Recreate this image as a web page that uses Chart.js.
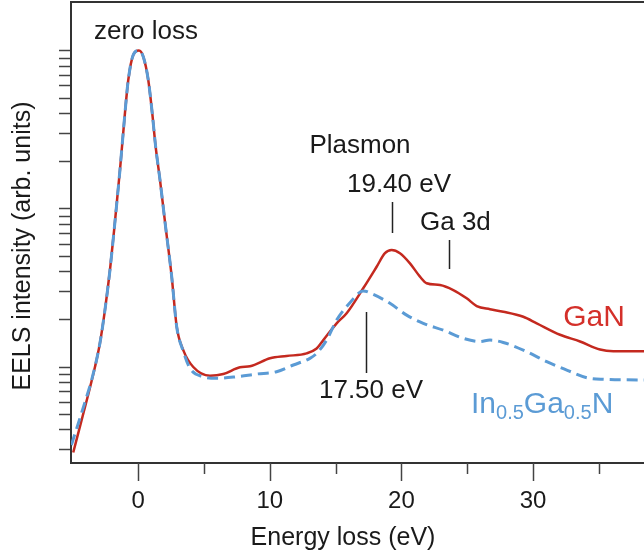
<!DOCTYPE html>
<html><head><meta charset="utf-8">
<script src="https://cdn.jsdelivr.net/npm/chart.js@4/dist/chart.umd.min.js"></script>
<style>html,body{margin:0;padding:0;background:#fff;overflow:hidden}#wrap{width:644px;height:555px;position:relative}</style>
</head><body><div id="wrap"><canvas id="c" width="644" height="555"></canvas></div>
<script>
// GaN spectrum (energy loss in eV, intensity in arb. units)
const ganEnergy = [-4.93,-4.29,-3.28,-2.90,-2.52,-2.14,-1.82,-1.38,-1.00,-0.75,-0.37,0.06,0.39,0.77,1.07,1.33,1.66,2.04,2.55,2.93,3.43,4.19,5.46,6.47,7.74,8.50,10.02,11.28,12.80,13.56,14.07,15.08,15.84,17.10,18.12,18.75,19.26,19.89,20.65,21.41,21.92,22.93,23.94,24.96,25.72,26.73,27.74,29.26,30.28,32.05,33.57,35.09,36.10,38.43];
const ganIntensity = [0.288,0.462,1.00,1.42,2.30,4.11,7.40,17.7,40.5,65.5,94.4,100.5,92.0,65.5,40.5,24.8,15.3,8.28,3.73,1.80,1.28,1.00,0.881,0.903,0.996,1.01,1.135,1.174,1.22,1.31,1.48,1.89,2.19,3.15,4.31,5.25,5.50,5.25,4.53,3.73,3.39,3.30,3.07,2.72,2.43,2.32,2.24,2.08,1.89,1.60,1.45,1.29,1.26,1.26];
// In0.5Ga0.5N spectrum
const ingEnergy = [-5.07,-4.42,-3.91,-3.53,-2.90,-2.52,-2.14,-1.82,-1.38,-1.00,-0.75,-0.37,0.06,0.39,0.77,1.07,1.33,1.66,2.04,2.55,2.93,3.43,3.94,4.95,5.97,7.48,9.00,10.52,11.79,13.05,13.56,14.32,15.08,16.09,17.10,17.86,19.13,20.40,21.66,23.18,24.70,25.97,26.73,27.74,29.52,31.04,32.56,34.08,35.34,38.43];
const ingIntensity = [0.321,0.475,0.649,0.828,1.42,2.30,4.11,7.40,17.7,40.5,65.5,94.4,100.5,92.0,65.5,40.5,24.8,15.3,8.28,3.73,1.80,1.26,0.981,0.868,0.848,0.868,0.903,0.934,1.03,1.135,1.22,1.48,1.98,2.55,3.03,2.88,2.53,2.13,1.89,1.71,1.52,1.45,1.48,1.43,1.25,1.08,0.957,0.856,0.836,0.828];

const xMajorTicks = [0,10,20,30];
const xMinorTicks = [5,15,25,35];
const yTicks = [0.3,0.4,0.5,0.6,0.7,0.8,0.9,1,2,3,4,5,6,7,8,9,10,20,30,40,50,60,70,80,90,100];
const markerEnergies = {plasmonGaN:19.27, plasmonInGaN:17.29, ga3d:23.62};

const FONT = "'Liberation Sans', Arial, Helvetica, sans-serif";
const AXIS = '#333333';
const RED = '#c4291f';
const BLUE = '#5b9bd5';

const toXY = (xs, ys) => xs.map((x,i)=>({x:x, y:ys[i]}));

const deco = {
  id:'deco',
  afterDraw(chart){
    const ctx = chart.ctx, ca = chart.chartArea, xs = chart.scales.x;
    ctx.save();
    ctx.strokeStyle = AXIS; ctx.lineWidth = 2;
    ctx.beginPath(); ctx.moveTo(ca.left-1, ca.top); ctx.lineTo(ca.right, ca.top); ctx.stroke();
    ctx.lineWidth = 1.5; ctx.strokeStyle = '#444';
    xMajorTicks.concat(xMinorTicks).forEach(v=>{
      const px = Math.round(xs.getPixelForValue(v))+0.5;
      const len = xMajorTicks.includes(v) ? 18 : 11;
      ctx.beginPath(); ctx.moveTo(px, ca.bottom); ctx.lineTo(px, ca.bottom+len); ctx.stroke();
    });
    ctx.fillStyle = '#1a1a1a';
    ctx.font = '24px ' + FONT; ctx.textAlign='center'; ctx.textBaseline='alphabetic';
    xMajorTicks.forEach(v=>{ ctx.fillText(String(v), xs.getPixelForValue(v), 508); });
    ctx.font = '25px ' + FONT;
    ctx.fillText('Energy loss (eV)', 343, 545);
    ctx.save(); ctx.translate(30, 246); ctx.rotate(-Math.PI/2);
    ctx.textBaseline='alphabetic'; ctx.fillText('EELS intensity (arb. units)', 0, 0); ctx.restore();
    ctx.font = '26px ' + FONT;
    ctx.fillText('zero loss', 146, 39);
    ctx.fillText('Plasmon', 360, 153);
    ctx.fillText('19.40 eV', 399, 192);
    ctx.textAlign='left';
    ctx.fillText('Ga 3d', 420, 230);
    ctx.textAlign='center';
    ctx.fillText('17.50 eV', 371, 398);
    ctx.strokeStyle = '#222'; ctx.lineWidth = 1.5;
    const vline = (e, y1, y2) => { const px = Math.round(xs.getPixelForValue(e))+0.5; ctx.beginPath(); ctx.moveTo(px,y1); ctx.lineTo(px,y2); ctx.stroke(); };
    vline(markerEnergies.plasmonGaN, 202, 233);
    vline(markerEnergies.ga3d, 240, 269);
    vline(markerEnergies.plasmonInGaN, 312, 373);
    ctx.fillStyle = '#d4302a'; ctx.font = '30px ' + FONT;
    ctx.fillText('GaN', 594, 326);
    ctx.fillStyle = BLUE; ctx.textAlign='left';
    let x = 471;
    const part = (t, sub) => {
      ctx.font = (sub ? '20px ' : '30px ') + FONT;
      ctx.fillText(t, x, sub ? 419 : 413);
      x += ctx.measureText(t).width;
    };
    part('In',false); part('0.5',true); part('Ga',false); part('0.5',true); part('N',false);
    ctx.restore();
  }
};

new Chart(document.getElementById('c'), {
  type:'line',
  data:{datasets:[
    {label:'GaN', data:toXY(ganEnergy, ganIntensity), borderColor:RED, borderWidth:2.5, pointRadius:0, cubicInterpolationMode:'monotone', fill:false, order:2},
    {label:'In0.5Ga0.5N', data:toXY(ingEnergy, ingIntensity), borderColor:BLUE, borderWidth:3, borderDash:[11,6], pointRadius:0, cubicInterpolationMode:'monotone', fill:false, order:1}
  ]},
  options:{
    responsive:false, animation:false, devicePixelRatio:1,
    layout:{padding:{top:2,right:0,left:0,bottom:0}},
    plugins:{legend:{display:false}, tooltip:{enabled:false}},
    scales:{
      x:{type:'linear', min:-5.1, max:38.43,
         ticks:{display:false}, grid:{display:false},
         border:{display:true, color:AXIS, width:2},
         afterFit(s){ s.height = 92; }},
      y:{type:'logarithmic', min:0.247, max:204,
         afterBuildTicks(s){ s.ticks = yTicks.map(v=>({value:v})); },
         ticks:{display:false},
         grid:{display:true, drawOnChartArea:false, drawTicks:true, tickLength:12, tickColor:'#444', tickWidth:1.5},
         border:{display:true, color:AXIS, width:2},
         afterFit(s){ s.width = 71; }}
    }
  },
  plugins:[deco]
});
</script></body></html>
